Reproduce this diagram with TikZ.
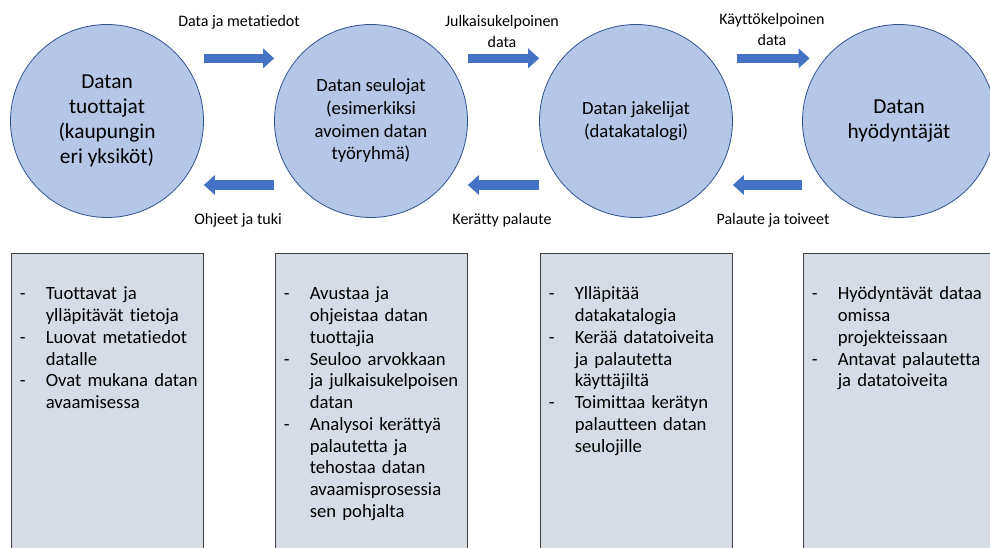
\documentclass[tikz,border=0pt]{standalone}
\usepackage{fontspec}
\setmainfont{Carlito}[Ligatures=NoCommon]
\usetikzlibrary{positioning,arrows.meta}

\definecolor{circlefill}{HTML}{B4C7E7}
\definecolor{circleline}{HTML}{2F528F}
\definecolor{arrowblue}{HTML}{4472C4}
\definecolor{boxfill}{HTML}{D6DCE5}
\definecolor{boxline}{HTML}{404040}

\newcommand{\dashitem}[1]{\par\noindent\hangindent=19.5pt\hangafter=1\makebox[19.5pt][l]{-}#1\par}

\tikzset{
  role/.style={circle, fill=circlefill, draw=circleline, line width=0.6pt, minimum size=144.75pt, inner sep=0pt, align=center},
  bigtext/.style={font=\fontsize{16pt}{18.75pt}\selectfont},
  smalltext/.style={font=\fontsize{14pt}{17pt}\selectfont},
  flow/.style={draw=arrowblue, line width=7pt, -{Triangle[length=8.25pt,width=15pt,line width'=0pt]}},
  flowlabel/.style={font=\fontsize{12pt}{15.75pt}\selectfont, align=center, inner sep=0pt},
  tasks/.style={draw=boxline, fill=boxfill, line width=0.75pt, minimum width=144pt, minimum height=245pt, inner sep=0pt},
  tasklist/.style={anchor=north west, text width=140pt, inner sep=0pt, font=\fontsize{14pt}{16.3pt}\selectfont, align=left}
}

\begin{document}
\begin{tikzpicture}[x=0.75pt, y=-0.75pt]
\clip (0,0) rectangle (990,548);

%circles
\node[role, bigtext] (tuottajat) at (107,121) {Datan\\tuottajat\\(kaupungin\\eri yksiköt)};
\node[role, smalltext] (seulojat) at (371,121) {Datan seulojat\\(esimerkiksi\\avoimen datan\\työryhmä)};
\node[role, smalltext] (jakelijat) at (636,121) {Datan jakelijat\\(datakatalogi)};
\node[role, bigtext] (hyodyntajat) at (899,121) {Datan\\hyödyntäjät};

%flows forward
\draw[flow] ([yshift=47pt]tuottajat.east) -- ([yshift=47pt]seulojat.west);
\draw[flow] ([yshift=47pt]seulojat.east) -- ([yshift=47pt]jakelijat.west);
\draw[flow] ([xshift=3.4pt,yshift=47pt]jakelijat.east) -- ([xshift=5.6pt,yshift=47pt]hyodyntajat.west);

%flows back
\draw[flow] ([yshift=-48pt]seulojat.west) -- ([yshift=-48pt]tuottajat.east);
\draw[flow] ([yshift=-48pt]jakelijat.west) -- ([yshift=-48pt]seulojat.east);
\draw[flow] ([yshift=-48pt]hyodyntajat.west) -- ([yshift=-48pt]jakelijat.east);

%flow labels
\node[flowlabel] (metatiedot) at (239,22) {Data ja metatiedot};
\node[flowlabel] (julkaisu) at (502,31.5) {Julkaisukelpoinen\\data};
\node[flowlabel] (kaytto) at (772,29.5) {Käyttökelpoinen\\data};
\node[flowlabel] (ohjeet) at (238,220) {Ohjeet ja tuki};
\node[flowlabel] (palaute) at (502,220) {Kerätty palaute};
\node[flowlabel] (toiveet) at (773,220) {Palaute ja toiveet};

%boxes
\node[tasks, below=26pt of tuottajat] (tuottajat-tasks) {};
\node[tasks, below=26pt of seulojat] (seulojat-tasks) {};
\node[tasks, below=26pt of jakelijat] (jakelijat-tasks) {};
\node[tasks, below=26pt of hyodyntajat] (hyodyntajat-tasks) {};

%box texts
\node[tasklist] (tuottajat-list) at ([xshift=6.75pt,yshift=-19pt]tuottajat-tasks.north west) {%
\dashitem{Tuottavat ja\newline ylläpitävät tietoja}
\dashitem{Luovat metatiedot\newline datalle}
\dashitem{Ovat mukana datan\newline avaamisessa}};
\node[tasklist] (seulojat-list) at ([xshift=6.75pt,yshift=-19pt]seulojat-tasks.north west) {%
\dashitem{Avustaa ja\newline ohjeistaa datan\newline tuottajia}
\dashitem{Seuloo arvokkaan\newline ja julkaisukelpoisen\newline datan}
\dashitem{Analysoi kerättyä\newline palautetta ja\newline tehostaa datan\newline avaamisprosessia\newline sen pohjalta}};
\node[tasklist] (jakelijat-list) at ([xshift=6.75pt,yshift=-19pt]jakelijat-tasks.north west) {%
\dashitem{Ylläpitää\newline datakatalogia}
\dashitem{Kerää datatoiveita\newline ja palautetta\newline käyttäjiltä}
\dashitem{Toimittaa kerätyn\newline palautteen datan\newline seulojille}};
\node[tasklist] (hyodyntajat-list) at ([xshift=6.75pt,yshift=-19pt]hyodyntajat-tasks.north west) {%
\dashitem{Hyödyntävät dataa\newline omissa\newline projekteissaan}
\dashitem{Antavat palautetta\newline ja datatoiveita}};
\end{tikzpicture}
\end{document}
